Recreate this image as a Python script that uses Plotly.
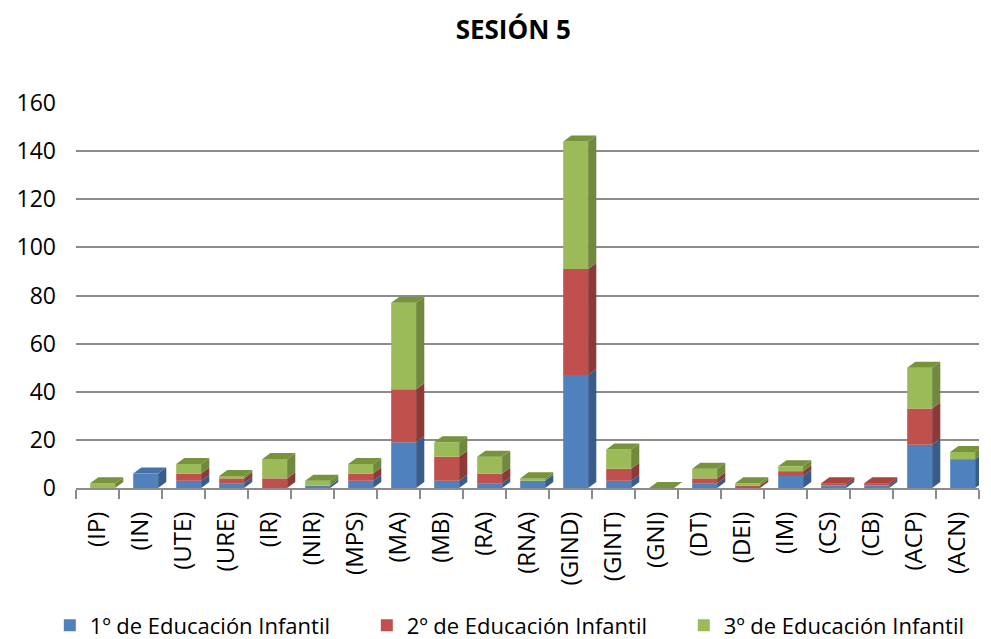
import plotly.graph_objects as go

categories = ["(IP)", "(IN)", "(UTE)", "(URE)", "(IR)", "(NIR)", "(MPS)", "(MA)", "(MB)", "(RA)",
              "(RNA)", "(GIND)", "(GINT)", "(GNI)", "(DT)", "(DEI)", "(IM)", "(CS)", "(CB)", "(ACP)", "(ACN)"]
primero = [0, 6, 3, 2, 0, 1, 3, 19, 3, 2, 3, 47, 3, 0, 2, 0, 5, 1, 1, 18, 12]
segundo = [0, 0, 3, 2, 4, 0, 3, 22, 10, 4, 0, 44, 5, 0, 2, 1, 2, 1, 1, 15, 0]
tercero = [2, 0, 4, 1, 8, 2, 4, 36, 6, 7, 1, 53, 8, 0, 4, 1, 2, 0, 0, 17, 3]
series_names = ["1º de Educación Infantil", "2º de Educación Infantil", "3º de Educación Infantil"]
y_ticks = [0, 20, 40, 60, 80, 100, 120, 140, 160]

FONT = "Open Sans"
front_cols = ["#4F81BD", "#C0504D", "#9BBB59"]
side_cols = ["#385D8A", "#8C3A38", "#71893F"]
top_cols = ["#4672A8", "#A9443F", "#77933C"]

n = len(categories)
shift = 0.12
bw = 0.58
dx = 0.19
dy = 2.5
xs = [i + shift for i in range(n)]

fig = go.Figure()
base = [0] * n
stack_tops = []
for name, vals, fc in zip(series_names, [primero, segundo, tercero], front_cols):
    fig.add_trace(go.Bar(x=xs, y=vals, base=base, name=name, width=bw,
                         marker=dict(color=fc, line=dict(width=0))))
    stack_tops.append([b + v for b, v in zip(base, vals)])
    base = [b + v for b, v in zip(base, vals)]

# side faces
all_vals = [primero, segundo, tercero]
for k, vals in enumerate(all_vals):
    px, py = [], []
    for i in range(n):
        if vals[i] <= 0:
            continue
        y1 = stack_tops[k][i]
        y0 = y1 - vals[i]
        xr = xs[i] + bw / 2
        px += [xr, xr + dx, xr + dx, xr, xr, None]
        py += [y0, y0 + dy, y1 + dy, y1, y0, None]
    fig.add_trace(go.Scatter(x=px, y=py, mode="lines", fill="toself", fillcolor=side_cols[k],
                             line=dict(width=0, color=side_cols[k]), showlegend=False, hoverinfo="skip"))

# top faces
for k in range(3):
    px, py = [], []
    for i in range(n):
        total = stack_tops[2][i]
        top_k = max([j for j in range(3) if all_vals[j][i] > 0], default=2)
        if top_k != k:
            continue
        xl = xs[i] - bw / 2
        xr = xs[i] + bw / 2
        px += [xl, xr, xr + dx, xl + dx, xl, None]
        py += [total, total, total + dy, total + dy, total, None]
    fig.add_trace(go.Scatter(x=px, y=py, mode="lines", fill="toself", fillcolor=top_cols[k],
                             line=dict(width=0, color=top_cols[k]), showlegend=False, hoverinfo="skip"))

fig.update_layout(
    width=983, height=631,
    margin=dict(l=68, r=12, t=95, b=151, autoexpand=False),
    paper_bgcolor="white", plot_bgcolor="white",
    barmode="overlay",
    font=dict(family=FONT, color="black"),
    title=dict(text="<b>SESIÓN 5</b>", x=0.514, xanchor="center", y=0.965, yanchor="middle",
               font=dict(size=26, family=FONT, color="black")),
    showlegend=True,
    legend=dict(orientation="h", x=-0.029, xanchor="left",
                y=-0.357, yanchor="middle",
                font=dict(size=22, family=FONT), entrywidth=272, itemwidth=30,
                traceorder="normal"),
)
fig.update_xaxes(range=[-0.5, n - 0.5], tickmode="array", tickvals=list(range(n)), ticktext=categories,
                 tickangle=-90, tickfont=dict(size=24, family=FONT), ticks="", ticklabelstandoff=12,
                 showgrid=False, zeroline=False, showline=True, linecolor="#8C8C8C", linewidth=2,
                 minor=dict(tickmode="array", tickvals=[i - 0.5 for i in range(n + 1)], ticks="outside",
                            ticklen=9, tickcolor="#8C8C8C", tickwidth=2))
fig.update_yaxes(range=[0, 160], tickmode="array", tickvals=y_ticks, ticks="",
                 tickfont=dict(size=23, family=FONT), ticklabelstandoff=19,
                 showgrid=True, gridcolor="#8C8C8C", gridwidth=2, zeroline=False, showline=False)

fig.write_html("out.html")
